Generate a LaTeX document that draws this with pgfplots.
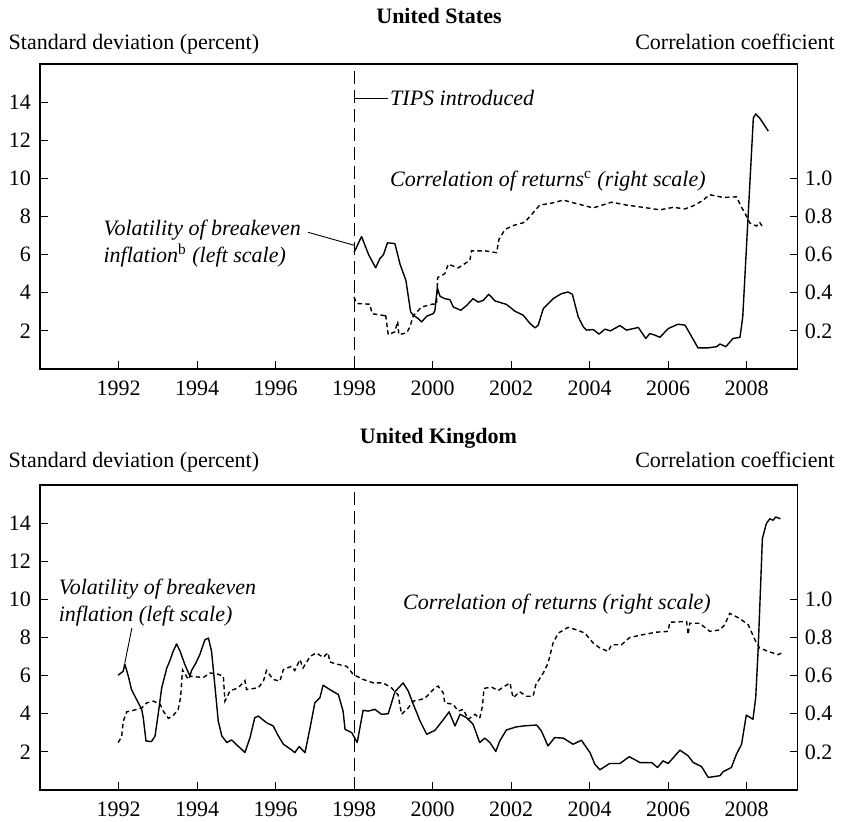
\documentclass[border=0pt]{standalone}
\usepackage{pgfplots}
\pgfplotsset{compat=1.18}
\usepackage{fontspec}
\setmainfont{Liberation Serif}

% ---------------- data ----------------
\pgfplotstableread{
x y
1998.00 6.12
1998.19 6.95
1998.37 6.00
1998.55 5.31
1998.66 5.80
1998.75 6.00
1998.85 6.62
1999.04 6.58
1999.17 5.50
1999.32 4.65
1999.44 3.00
1999.51 2.82
1999.63 2.65
1999.72 2.47
1999.85 2.77
2000.02 2.91
2000.06 3.08
2000.12 4.27
2000.19 3.81
2000.31 3.69
2000.44 3.64
2000.53 3.25
2000.72 3.08
2000.87 3.34
2001.03 3.69
2001.16 3.51
2001.29 3.60
2001.43 3.92
2001.59 3.57
2001.88 3.39
2002.10 3.03
2002.31 2.82
2002.48 2.39
2002.61 2.16
2002.69 2.30
2002.82 3.17
2002.90 3.34
2003.07 3.69
2003.28 3.95
2003.45 4.04
2003.56 3.92
2003.71 2.73
2003.84 2.21
2003.92 2.04
2004.09 2.07
2004.24 1.83
2004.39 2.09
2004.53 2.00
2004.77 2.28
2004.94 2.04
2005.24 2.18
2005.43 1.60
2005.53 1.86
2005.66 1.78
2005.79 1.66
2006.00 2.12
2006.25 2.35
2006.43 2.30
2006.60 1.69
2006.76 1.11
2007.02 1.11
2007.23 1.17
2007.32 1.31
2007.47 1.17
2007.65 1.60
2007.83 1.66
2007.90 2.73
2008.17 13.17
2008.23 13.38
2008.33 13.17
2008.44 12.83
2008.55 12.48
}\usvol

\pgfplotstableread{
x y
1998.00 0.378
1998.05 0.350
1998.11 0.343
1998.40 0.340
1998.46 0.290
1998.77 0.280
1998.80 0.290
1998.87 0.180
1999.04 0.195
1999.11 0.250
1999.14 0.180
1999.34 0.190
1999.42 0.220
1999.51 0.280
1999.72 0.325
1999.99 0.340
2000.10 0.340
2000.13 0.480
2000.31 0.500
2000.40 0.550
2000.65 0.530
2000.95 0.570
2000.99 0.620
2001.33 0.620
2001.63 0.610
2001.69 0.680
2001.84 0.730
2002.01 0.750
2002.35 0.770
2002.52 0.810
2002.73 0.860
2003.03 0.870
2003.33 0.886
2003.62 0.870
2004.09 0.845
2004.56 0.875
2004.94 0.860
2005.36 0.848
2005.79 0.835
2006.13 0.848
2006.43 0.840
2006.64 0.856
2006.85 0.880
2007.06 0.914
2007.40 0.900
2007.74 0.903
2007.87 0.848
2007.95 0.820
2008.08 0.766
2008.25 0.750
2008.33 0.770
2008.42 0.740
}\uscor

\pgfplotstableread{
x y
1991.99 6.02
1992.12 6.23
1992.16 6.61
1992.25 5.97
1992.33 5.27
1992.46 4.75
1992.59 4.23
1992.63 3.79
1992.70 2.57
1992.84 2.54
1992.93 2.83
1993.01 3.97
1993.10 5.36
1993.23 6.40
1993.31 6.79
1993.39 7.27
1993.48 7.66
1993.57 7.27
1993.69 6.58
1993.82 5.97
1993.86 6.27
1993.97 6.66
1994.07 7.10
1994.20 7.88
1994.29 7.97
1994.37 7.27
1994.46 5.36
1994.54 3.62
1994.63 2.84
1994.76 2.49
1994.88 2.63
1995.01 2.37
1995.22 1.97
1995.35 2.75
1995.47 3.79
1995.56 3.88
1995.77 3.53
1995.94 3.36
1996.07 2.84
1996.20 2.40
1996.41 2.10
1996.49 1.96
1996.60 2.28
1996.75 1.96
1996.88 3.27
1997.00 4.57
1997.13 4.84
1997.21 5.50
1997.38 5.27
1997.60 5.01
1997.72 4.14
1997.77 3.18
1997.94 3.01
1998.08 2.49
1998.23 4.18
1998.36 4.14
1998.53 4.23
1998.70 3.97
1998.87 4.00
1999.04 5.15
1999.25 5.62
1999.38 5.19
1999.51 4.49
1999.68 3.62
1999.85 2.92
2000.06 3.13
2000.31 3.79
2000.42 4.10
2000.57 3.36
2000.70 3.97
2000.87 3.79
2001.03 3.45
2001.20 2.49
2001.33 2.72
2001.46 2.49
2001.61 2.02
2001.71 2.57
2001.88 3.15
2002.13 3.31
2002.31 3.36
2002.65 3.41
2002.77 3.10
2002.94 2.31
2003.11 2.75
2003.33 2.72
2003.58 2.40
2003.79 2.61
2004.01 1.96
2004.13 1.36
2004.26 1.06
2004.51 1.39
2004.77 1.39
2005.01 1.75
2005.28 1.44
2005.58 1.44
2005.73 1.18
2005.87 1.53
2006.00 1.39
2006.30 2.09
2006.51 1.79
2006.64 1.44
2006.85 1.23
2007.02 0.66
2007.32 0.75
2007.40 0.96
2007.61 1.18
2007.74 1.88
2007.87 2.40
2007.99 3.93
2008.16 3.71
2008.23 4.84
2008.29 7.27
2008.36 11.00
2008.40 13.19
2008.50 13.97
2008.59 14.23
2008.67 14.15
2008.74 14.32
2008.86 14.23
}\ukvol

\pgfplotstableread{
x y
1991.99 0.249
1992.08 0.280
1992.12 0.360
1992.21 0.410
1992.38 0.418
1992.59 0.430
1992.72 0.457
1992.89 0.466
1993.06 0.450
1993.14 0.414
1993.27 0.376
1993.39 0.390
1993.52 0.423
1993.58 0.484
1993.63 0.630
1993.78 0.580
1993.82 0.597
1994.16 0.590
1994.33 0.614
1994.50 0.610
1994.67 0.597
1994.71 0.466
1994.84 0.520
1995.05 0.536
1995.22 0.574
1995.26 0.527
1995.56 0.536
1995.69 0.571
1995.77 0.627
1995.94 0.580
1996.11 0.571
1996.20 0.632
1996.41 0.649
1996.49 0.627
1996.62 0.684
1996.70 0.640
1996.88 0.701
1997.04 0.719
1997.21 0.696
1997.34 0.720
1997.38 0.672
1997.55 0.661
1997.81 0.649
1997.98 0.606
1998.23 0.580
1998.49 0.562
1998.74 0.562
1998.95 0.536
1999.12 0.500
1999.21 0.397
1999.38 0.431
1999.51 0.466
1999.80 0.480
2000.06 0.536
2000.14 0.545
2000.27 0.510
2000.31 0.457
2000.52 0.450
2000.65 0.414
2000.78 0.423
2000.91 0.371
2001.08 0.397
2001.20 0.376
2001.27 0.440
2001.31 0.533
2001.50 0.540
2001.67 0.522
2001.84 0.545
2001.97 0.562
2002.05 0.484
2002.22 0.515
2002.39 0.492
2002.56 0.492
2002.63 0.553
2002.82 0.614
2002.94 0.666
2003.07 0.771
2003.20 0.823
2003.45 0.853
2003.67 0.840
2003.88 0.823
2004.09 0.771
2004.26 0.745
2004.47 0.727
2004.56 0.762
2004.81 0.762
2005.02 0.800
2005.36 0.815
2005.70 0.828
2006.00 0.832
2006.04 0.880
2006.47 0.884
2006.51 0.815
2006.55 0.875
2006.80 0.875
2007.06 0.832
2007.32 0.840
2007.44 0.867
2007.57 0.927
2007.82 0.900
2008.04 0.867
2008.21 0.788
2008.33 0.745
2008.55 0.727
2008.80 0.710
2008.88 0.718
}\ukcor

\pgfplotsset{
  panel/.style={
    scale only axis, width=378.85pt, height=152.5pt,
    anchor=south west,
    xmin=1990, xmax=2009.3,
    tick align=inside,
    major tick length=4pt,
    tick style={black, line width=0.5pt},
    axis line style={black, line width=0.6pt},
    font=\fontsize{11}{13}\selectfont,
    /pgf/number format/assume math mode=true,
    clip=false,
  },
  leftax/.style={panel,
    ymin=0, ymax=16, ytick={2,4,...,14},
    ytick pos=left, xtick pos=bottom,
    xtick={1992,1994,...,2008},
    xticklabel style={/pgf/number format/1000 sep={}, yshift=-2.2pt},
    yticklabel style={xshift=-1pt},
  },
  rightax/.style={panel,
    ymin=0, ymax=1.6, ytick={0.2,0.4,0.6,0.8,1.0},
    ytick pos=right, xtick=\empty,
    yticklabel style={/pgf/number format/.cd, fixed, fixed zerofill, precision=1},
  },
  vol/.style={black, line width=0.7pt, line join=round},
  cor/.style={black, line width=0.7pt, dash pattern=on 2.2pt off 1.6pt},
}

\begin{document}
\begin{tikzpicture}
\path[use as bounding box] (0,0) rectangle (420.5pt,410.5pt);
\def\fs{\fontsize{11}{13}\selectfont}

% ---------- United States ----------
\node[anchor=base, font=\fs\bfseries] at (219.5pt,398.8pt) {United States};
\node[anchor=base west, inner sep=0pt, font=\fs] at (4.15pt,385.5pt) {Standard deviation (percent)};
\node[anchor=base east, inner sep=0pt, font=\fs] at (417.5pt,385.5pt) {Correlation coefficient};

\begin{axis}[leftax, at={(20pt,226pt)}]
  \addplot[vol] table[x=x,y=y] {\usvol};
  \draw[line width=0.5pt, dash pattern=on 6.5pt off 3pt] (axis cs:1998,0) -- (axis cs:1998,16);
  \draw[line width=0.45pt] (axis cs:1998,14.17) -- (axis cs:1998.86,14.17);
  \node[anchor=base west, inner sep=0pt, font=\fs\itshape] at (axis cs:1998.91,13.8) {TIPS introduced};
  \node[anchor=base west, inner sep=0pt, font=\fs\itshape] at (axis cs:1998.91,9.6) {Correlation of returns\textsuperscript{\upshape c} (right scale)};
  \node[anchor=base west, inner sep=0pt, font=\fs\itshape] at (axis cs:1991.61,7.0) {Volatility of breakeven};
  \node[anchor=base west, inner sep=0pt, font=\fs\itshape] at (axis cs:1991.61,5.6) {inflation\textsuperscript{\upshape b} (left scale)};
  \draw[line width=0.45pt] (axis cs:1996.83,7.17) -- (axis cs:1998.02,6.48);
\end{axis}
\begin{axis}[rightax, at={(20pt,226pt)}]
  \addplot[cor] table[x=x,y=y] {\uscor};
\end{axis}

% ---------- United Kingdom ----------
\node[anchor=base, font=\fs\bfseries] at (219.25pt,188.8pt) {United Kingdom};
\node[anchor=base west, inner sep=0pt, font=\fs] at (4.15pt,176.8pt) {Standard deviation (percent)};
\node[anchor=base east, inner sep=0pt, font=\fs] at (417.5pt,176.8pt) {Correlation coefficient};

\begin{axis}[leftax, at={(20pt,15.5pt)}]
  \addplot[vol] table[x=x,y=y] {\ukvol};
  \draw[line width=0.5pt, dash pattern=on 6.5pt off 3pt] (axis cs:1998,0) -- (axis cs:1998,16);
  \node[anchor=base west, inner sep=0pt, font=\fs\itshape] at (axis cs:1990.47,10.23) {Volatility of breakeven};
  \node[anchor=base west, inner sep=0pt, font=\fs\itshape] at (axis cs:1990.47,8.84) {inflation (left scale)};
  \draw[line width=0.45pt] (axis cs:1992.34,8.49) -- (axis cs:1992.16,6.66);
  \node[anchor=base west, inner sep=0pt, font=\fs\itshape] at (axis cs:1999.24,9.45) {Correlation of returns (right scale)};
\end{axis}
\begin{axis}[rightax, at={(20pt,15.5pt)}]
  \addplot[cor] table[x=x,y=y] {\ukcor};
\end{axis}
\end{tikzpicture}
\end{document}
